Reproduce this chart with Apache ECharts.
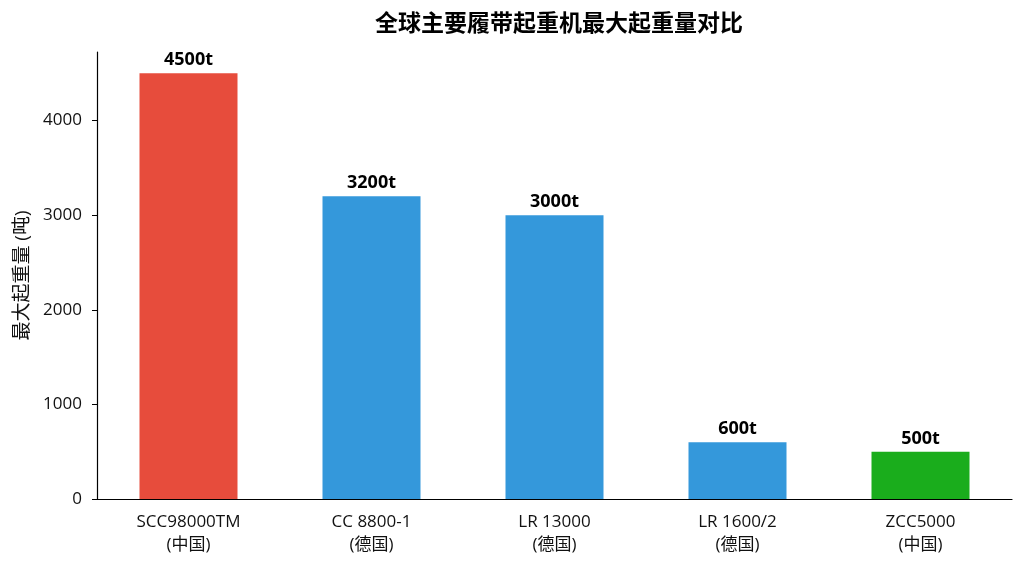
<!DOCTYPE html>
<html>
<head>
    <meta charset="utf-8">
    <title>履带起重机对比</title>
    <script src="https://cdn.jsdelivr.net/npm/echarts@6/dist/echarts.min.js"></script>
    <style>
        html, body, #main {
            width: 100%;
            height: 100%;
            margin: 0;
            background: #fff;
        }
    </style>
</head>
<body>
    <div id="main"></div>
    <script type="text/javascript">
        // 数据
        var models = ['SCC98000TM', 'CC 8800-1', 'LR 13000', 'LR 1600/2', 'ZCC5000'];
        var countries = ['中国', '德国', '德国', '德国', '中国'];
        var capacity = [4500, 3200, 3000, 600, 500];
        var yTicks = [0, 1000, 2000, 3000, 4000];

        // 每根柱子的颜色
        var barColors = ['#e74c3c', '#3498db', '#3498db', '#3498db', '#1aad1c'];

        var font = '"Open Sans", "Noto Sans CJK SC", sans-serif';
        var cjkFont = '"Noto Sans CJK SC", sans-serif';
        var myChart = echarts.init(document.getElementById('main'));

        var categories = models.map(function (m, i) {
            return m + '\n(' + countries[i] + ')';
        });

        var option = {
            animation: false,
            backgroundColor: '#fff',
            textStyle: { fontFamily: font },
            title: {
                text: '全球主要履带起重机最大起重量对比',
                left: 554,
                textAlign: 'center',
                top: 6,
                textStyle: { fontSize: 23, fontWeight: 'bold', color: '#000', fontFamily: cjkFont }
            },
            grid: { left: 97, right: 12, top: 52, bottom: 67, containLabel: false },
            xAxis: {
                type: 'category',
                data: categories,
                axisLine: { lineStyle: { color: '#000', width: 1.2 } },
                axisTick: { alignWithLabel: true, length: 5, lineStyle: { color: '#000' } },
                axisLabel: { color: '#111', fontSize: 17, lineHeight: 23, margin: 12, fontFamily: font }
            },
            yAxis: {
                type: 'value',
                min: 0,
                max: 4725,
                interval: 1000,
                name: '最大起重量 (吨)',
                nameLocation: 'middle',
                nameGap: 65,
                nameTextStyle: { fontSize: 19, color: '#111', fontFamily: font },
                splitLine: { show: false },
                axisLine: { show: true, lineStyle: { color: '#000', width: 1.2 } },
                axisTick: { show: true, length: 5, customValues: yTicks, lineStyle: { color: '#000' } },
                axisLabel: {
                    color: '#111', fontSize: 17, margin: 15, customValues: yTicks, fontFamily: font,
                    formatter: function (v) { return String(v); }
                }
            },
            series: [{
                type: 'bar',
                barWidth: 98,
                data: capacity.map(function (v, i) {
                    return { value: v, itemStyle: { color: barColors[i] } };
                }),
                label: {
                    show: true,
                    position: 'top',
                    distance: 4,
                    fontSize: 18,
                    fontWeight: 'bold',
                    color: '#000',
                    fontFamily: font,
                    formatter: function (p) { return p.value + 't'; }
                }
            }]
        };

        if (option && typeof option === "object") {
            myChart.setOption(option, true);
        }
    </script>
</body>
</html>
